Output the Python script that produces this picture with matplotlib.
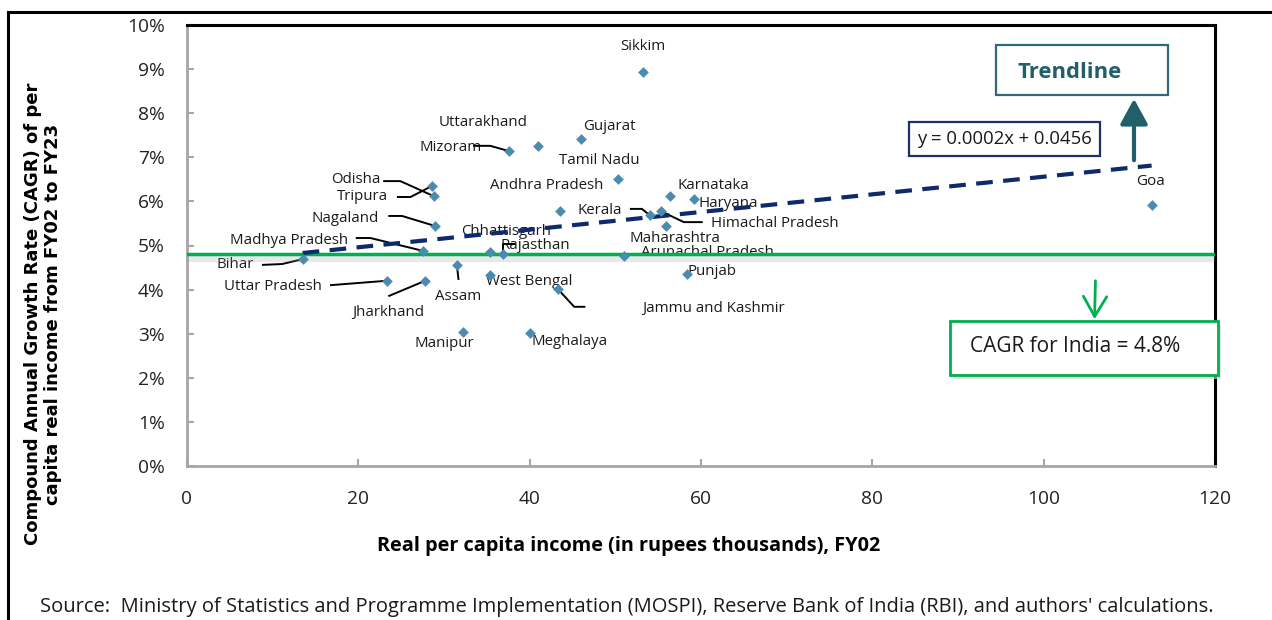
import matplotlib
matplotlib.use("Agg")
import matplotlib.pyplot as plt
import matplotlib.patheffects as pe
from matplotlib.patches import Rectangle, FancyArrowPatch
from matplotlib.lines import Line2D
import numpy as np

plt.rcParams['font.family'] = ['Open Sans', 'DejaVu Sans']

# ---------------- data ----------------
states = ["Sikkim", "Gujarat", "Uttarakhand", "Mizoram", "Tamil Nadu", "Andhra Pradesh",
          "Karnataka", "Haryana", "Odisha", "Tripura", "Nagaland", "Madhya Pradesh",
          "Bihar", "Uttar Pradesh", "Jharkhand", "Assam", "Chhattisgarh", "Rajasthan",
          "West Bengal", "Jammu and Kashmir", "Kerala", "Himachal Pradesh", "Maharashtra",
          "Arunachal Pradesh", "Punjab", "Manipur", "Meghalaya", "Goa"]
income_fy02 = [53.2, 46.0, 41.0, 37.6, 50.3, 43.5,
               56.4, 59.2, 28.8, 28.6, 29.0, 27.5,
               13.5, 23.3, 27.8, 31.5, 35.4, 36.9,
               35.4, 43.3, 54.0, 55.3, 55.9,
               51.0, 58.4, 32.2, 40.0, 112.6]
cagr_pct = [8.93, 7.41, 7.26, 7.14, 6.51, 5.78,
            6.12, 6.05, 6.12, 6.35, 5.44, 4.88,
            4.69, 4.20, 4.20, 4.56, 4.85, 4.81,
            4.33, 4.01, 5.69, 5.78, 5.44,
            4.76, 4.35, 3.04, 3.02, 5.92]
trend_slope = 0.0002   # y = 0.0002x + 0.0456
trend_intercept = 0.0456
india_cagr = 4.8
xticks = [0, 20, 40, 60, 80, 100, 120]
yticks = list(range(0, 11))

# ---------------- label layout (text centre, leader waypoints) ----------------
label_pos = {
    "Sikkim": (53.2, 9.52), "Gujarat": (49.3, 7.69), "Uttarakhand": (34.6, 7.80),
    "Mizoram": (30.8, 7.23), "Tamil Nadu": (48.1, 6.92), "Andhra Pradesh": (42.0, 6.35),
    "Karnataka": (61.4, 6.37), "Haryana": (63.2, 5.96), "Odisha": (19.7, 6.49),
    "Tripura": (20.5, 6.10), "Nagaland": (18.4, 5.62), "Madhya Pradesh": (11.9, 5.12),
    "Bihar": (5.6, 4.56), "Uttar Pradesh": (10.0, 4.08), "Jharkhand": (23.5, 3.47),
    "Assam": (31.7, 3.85), "Chhattisgarh": (37.2, 5.31), "Rajasthan": (40.7, 4.99),
    "West Bengal": (39.9, 4.19), "Jammu and Kashmir": (61.4, 3.58), "Kerala": (48.2, 5.80),
    "Himachal Pradesh": (68.6, 5.49), "Maharashtra": (57.0, 5.15),
    "Arunachal Pradesh": (60.7, 4.83), "Punjab": (61.3, 4.42), "Manipur": (30.0, 2.77),
    "Meghalaya": (44.7, 2.83), "Goa": (112.5, 6.46),
}
leaders = {
    "Mizoram": [(33.4, 7.26), (35.4, 7.26)],
    "Odisha": [(22.9, 6.46), (24.9, 6.46)],
    "Tripura": [(24.5, 6.10), (26.1, 6.10)],
    "Nagaland": [(23.5, 5.67), (25.1, 5.67)],
    "Madhya Pradesh": [(19.7, 5.17), (21.4, 5.17)],
    "Bihar": [(8.75, 4.56), (11.1, 4.58)],
    "Uttar Pradesh": [(16.7, 4.10)],
    "Jharkhand": [(23.5, 3.85)],
    "Assam": [(31.7, 4.22)],
    "Rajasthan": [(38.3, 5.03), (36.9, 5.03)],
    "Jammu and Kashmir": [(46.5, 3.61), (45.2, 3.61)],
    "Kerala": [(51.7, 5.83), (53.1, 5.83)],
    "Himachal Pradesh": [(60.2, 5.53), (58.0, 5.53)],
}

W, H = 1272, 620
fig = plt.figure(figsize=(W / 100, H / 100), dpi=100)
ax = fig.add_axes([187 / W, 1 - 466 / H, (1215 - 187) / W, (466 - 25) / H])

def fx(px):
    return px / W

def fy(py):
    return 1 - py / H

# outer frame
fig.add_artist(Line2D([fx(8), 1.0], [fy(12), fy(12)], color='black', lw=2.2))
fig.add_artist(Line2D([fx(8), fx(8)], [fy(12), 0.0], color='black', lw=2.2))

ax.set_xlim(0, 120)
ax.set_ylim(0, 10)
ax.set_xticks(xticks)
ax.set_yticks(yticks)
ax.set_yticklabels([f"{v}%" for v in yticks])
ax.tick_params(axis='both', direction='in', length=5, color='#A6A6A6', width=1.5,
               labelsize=13.8, labelcolor='#222222')
ax.tick_params(axis='x', pad=17)
ax.tick_params(axis='y', pad=16)
for s in ['left', 'bottom']:
    ax.spines[s].set_color('#A6A6A6')
    ax.spines[s].set_linewidth(2)
for s in ['top', 'right']:
    ax.spines[s].set_color('black')
    ax.spines[s].set_linewidth(2.2)

# green India line with shadow
ax.axhline(india_cagr, color='#00B050', lw=2.5, zorder=5,
           path_effects=[pe.SimpleLineShadow(offset=(0, -3), shadow_color='0.6', alpha=0.22, linewidth=6),
                         pe.Normal()])

# scatter
ax.scatter(income_fy02, cagr_pct, marker='D', s=30, color='#4A8BB0', zorder=6, linewidths=0)

# trendline from stated equation
xs = np.array([min(income_fy02), max(income_fy02)])
ys = (trend_slope * xs + trend_intercept) * 100
ax.plot(xs, ys, color='#0E2A6B', lw=3, ls=(0, (4, 2.5)), zorder=5)

# labels and leaders
for name, x, y in zip(states, income_fy02, cagr_pct):
    tx, ty = label_pos[name]
    fs = 11 if name == "Goa" else 10.8
    ax.text(tx, ty, name, ha='center', va='center', fontsize=fs, color='#1a1a1a', zorder=3)
    if name in leaders:
        pts = leaders[name] + [(x, y)]
        lx = [p[0] for p in pts]
        ly = [p[1] for p in pts]
        ax.plot(lx, ly, color='black', lw=1.4, zorder=4, solid_capstyle='butt')

# axis titles
fig.text(fx(629), fy(546), "Real per capita income (in rupees thousands), FY02",
         ha='center', va='center', fontsize=14.3, fontweight='bold', color='black')
fig.text(fx(43), fy(314), "Compound Annual Growth Rate (CAGR) of per\ncapita real income from FY02 to FY23",
         ha='center', va='center', rotation=90, fontsize=13, fontweight='bold',
         family=['DejaVu Sans'], linespacing=1.15, color='black')
fig.text(fx(40), fy(607),
         "Source:  Ministry of Statistics and Programme Implementation (MOSPI), Reserve Bank of India (RBI), and authors' calculations.",
         ha='left', va='center', fontsize=14.5, color='#1a1a1a')

# Trendline box
fig.add_artist(Rectangle((fx(996), fy(95)), (1168 - 996) / W, (95 - 45) / H,
                         transform=fig.transFigure, fill=True, facecolor='white',
                         edgecolor='#2E6B78', lw=1.6))
fig.text(fx(1070), fy(72), "Trendline", ha='center', va='center', fontsize=15.8,
         fontweight='bold', color='#215F6B')
fig.add_artist(FancyArrowPatch((fx(1134), fy(163)), (fx(1134), fy(96)), transform=fig.transFigure,
                               arrowstyle='-|>,head_length=1.1,head_width=0.6', mutation_scale=14,
                               color='#215F6B', lw=3))

# Equation box
fig.add_artist(Rectangle((fx(909), fy(156)), (1100 - 909) / W, (156 - 122) / H,
                         transform=fig.transFigure, facecolor='white', edgecolor='#1F2F6B', lw=1.6,
                         zorder=7))
fig.text(fx(1004), fy(139), "y = 0.0002x + 0.0456", ha='center', va='center', fontsize=13.3,
         color='#1a1a1a', zorder=8)

# CAGR box with shadow
fig.add_artist(Rectangle((fx(953), fy(379)), (1218 - 950) / W, (375 - 321) / H,
                         transform=fig.transFigure, facecolor='#d0d0d0', edgecolor='none', alpha=0.6))
fig.add_artist(Rectangle((fx(950), fy(375)), (1218 - 950) / W, (375 - 321) / H,
                         transform=fig.transFigure, facecolor='white', edgecolor='#00B050', lw=2))
fig.text(fx(970), fy(347), "CAGR for India = 4.8%", ha='left', va='center', fontsize=15,
         color='#1a1a1a')
fig.add_artist(FancyArrowPatch((fx(1095.5), fy(278)), (fx(1094.5), fy(322)), transform=fig.transFigure,
                               arrowstyle='->,head_length=1.2,head_width=0.7', mutation_scale=12,
                               color='#00B050', lw=2))

fig.savefig("out.png", dpi=100)
